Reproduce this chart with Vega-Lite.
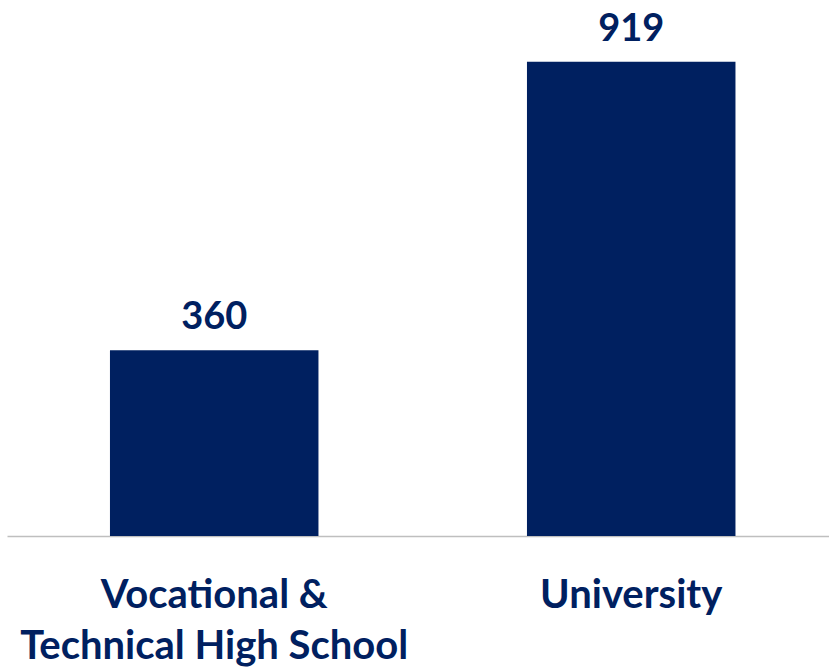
{
  "$schema": "https://vega.github.io/schema/vega-lite/v6.json",
  "autosize": {"type": "none"},
  "padding": {"left": 7, "top": 20, "right": 0, "bottom": 132},
  "width": 822,
  "height": 516,
  "background": "white",
  "config": {"view": {"stroke": null}},
  "data": {"values": [
    {"category": "Vocational & Technical High School", "value": 360},
    {"category": "University", "value": 919}
  ]},
  "encoding": {
    "x": {
      "field": "category", "type": "nominal", "sort": null,
      "scale": {"paddingInner": 0.5, "paddingOuter": 0.2356, "align": 0.524, "round": false},
      "axis": {
        "title": null, "labelAngle": 0, "ticks": false, "labelLimit": 0,
        "labelFont": "Lato", "labelFontWeight": "bold", "labelFontSize": 40,
        "labelColor": "#002060", "labelPadding": 39, "labelLineHeight": 51,
        "domainColor": "#bfbfbf", "domainWidth": 1.5,
        "labelExpr": "datum.value == 'Vocational & Technical High School' ? ['Vocational &', 'Technical High School'] : datum.value"
      }
    },
    "y": {
      "field": "value", "type": "quantitative",
      "scale": {"domain": [0, 1000], "nice": false},
      "axis": null
    }
  },
  "layer": [
    {"mark": {"type": "bar", "color": "#002060"}},
    {
      "mark": {"type": "text", "font": "Lato", "fontWeight": "bold", "fontSize": 38, "color": "#002060", "baseline": "alphabetic", "dy": -21},
      "encoding": {"text": {"field": "value", "type": "quantitative"}}
    }
  ]
}
